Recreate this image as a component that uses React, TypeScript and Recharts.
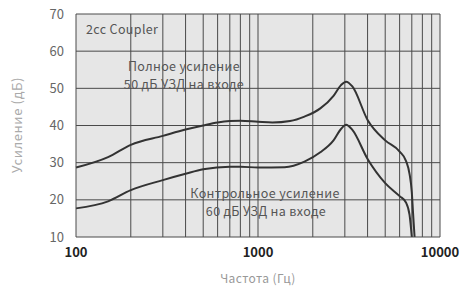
import React from 'react';
import {
  LineChart,
  Line,
  XAxis,
  YAxis,
  ReferenceLine,
  ReferenceArea,
  Label
} from 'recharts';

// Частотная характеристика, 2cc coupler
const fullGain = [
  { f: 100, db: 28.7 }, { f: 150, db: 31.5 }, { f: 200, db: 34.8 }, { f: 300, db: 37.2 },
  { f: 400, db: 38.9 }, { f: 500, db: 40 }, { f: 600, db: 40.8 }, { f: 700, db: 41.2 },
  { f: 800, db: 41.3 }, { f: 1000, db: 41 }, { f: 1200, db: 40.8 }, { f: 1500, db: 41.2 },
  { f: 1800, db: 42.4 }, { f: 2200, db: 44.6 }, { f: 2600, db: 48 }, { f: 2850, db: 50.8 },
  { f: 3050, db: 51.8 }, { f: 3300, db: 50.5 }, { f: 4000, db: 41.5 }, { f: 5000, db: 36 },
  { f: 6000, db: 33 }, { f: 6500, db: 30.5 }, { f: 6800, db: 27 }, { f: 7000, db: 22 },
  { f: 7100, db: 17 }, { f: 7250, db: 10 }
];

const controlGain = [
  { f: 100, db: 17.7 }, { f: 150, db: 19.6 }, { f: 200, db: 22.6 }, { f: 300, db: 25.3 },
  { f: 400, db: 27 }, { f: 500, db: 28.2 }, { f: 700, db: 28.9 }, { f: 800, db: 28.9 },
  { f: 1000, db: 28.7 }, { f: 1400, db: 28.8 }, { f: 1800, db: 30.3 }, { f: 2200, db: 32.8 },
  { f: 2600, db: 36 }, { f: 2850, db: 39 }, { f: 3050, db: 40.2 }, { f: 3300, db: 38.8 },
  { f: 4000, db: 31 }, { f: 5000, db: 24.5 }, { f: 6000, db: 21 }, { f: 6500, db: 19.3 },
  { f: 6800, db: 16 }, { f: 7000, db: 10 }
];

const xTicks = [100, 1000, 10000];
const yTicks = [10, 20, 30, 40, 50, 60, 70];
const xGrid = [200, 300, 400, 500, 600, 700, 800, 900, 1000, 2000, 3000, 4000, 5000, 6000, 7000, 8000, 9000, 10000];
const yGrid = [20, 30, 40, 50, 60, 70];

const font = '"Noto Sans CJK KR", "Noto Sans", sans-serif';
const gridColor = '#4a4a4a';
const lineColor = '#333';
const noteStyle = { fill: '#555', fontSize: 12.5, letterSpacing: 0.35, fontFamily: font };

export default function App() {
  return (
    <div style={{ position: 'fixed', left: 0, top: 0, width: 460, height: 286, background: '#fff' }}>
      <LineChart width={460} height={286} margin={{ top: 14, right: 20, bottom: 0, left: 0 }}>
        <XAxis
          dataKey="f"
          type="number"
          scale="log"
          domain={[100, 10000]}
          ticks={xTicks}
          allowDuplicatedCategory={false}
          height={49}
          axisLine={{ stroke: gridColor }}
          tickLine={false}
          tick={{ fill: '#222', fontSize: 13, fontFamily: font, fontWeight: 600 }}
          tickMargin={5}
        >
          <Label value="Частота (Гц)" position="insideBottom" offset={3} fill="#999" fontSize={12} letterSpacing={0.4} fontFamily={font} />
        </XAxis>
        <YAxis
          dataKey="db"
          type="number"
          domain={[10, 70]}
          ticks={yTicks}
          width={76}
          axisLine={{ stroke: gridColor }}
          tickLine={false}
          tick={{ fill: '#666', fontSize: 13, fontFamily: font }}
          tickMargin={6}
        />
        <ReferenceArea x1={100} x2={10000} y1={10} y2={70} fill="#e6e6e6" fillOpacity={1} stroke="none" ifOverflow="visible" />
        {xGrid.map(v => (
          <ReferenceLine key={'x' + v} x={v} stroke={gridColor} strokeWidth={1} />
        ))}
        {yGrid.map(v => (
          <ReferenceLine key={'y' + v} y={v} stroke={gridColor} strokeWidth={1} />
        ))}
        <Line data={fullGain} dataKey="db" type="monotone" stroke={lineColor} strokeWidth={2} dot={false} isAnimationActive={false} />
        <Line data={controlGain} dataKey="db" type="monotone" stroke={lineColor} strokeWidth={2} dot={false} isAnimationActive={false} />
      </LineChart>
      {/* notes drawn over the plot */}
      <svg width={460} height={286} style={{ position: 'absolute', left: 0, top: 0, pointerEvents: 'none' }}>
        <text x={18} y={125} transform="rotate(-90 18 125)" textAnchor="middle" dominantBaseline="middle" fill="#aaa" fontSize={13} letterSpacing={0.6} fontFamily={font}>
          Усиление (дБ)
        </text>
        <text x={86} y={34} {...noteStyle}>2cc Coupler</text>
        <text x={184} y={71} textAnchor="middle" {...noteStyle}>Полное усиление</text>
        <text x={184} y={89} textAnchor="middle" {...noteStyle}>50 дБ УЗД на входе</text>
        <text x={265} y={198} textAnchor="middle" {...noteStyle}>Контрольное усиление</text>
        <text x={266} y={216} textAnchor="middle" {...noteStyle}>60 дБ УЗД на входе</text>
      </svg>
    </div>
  );
}
